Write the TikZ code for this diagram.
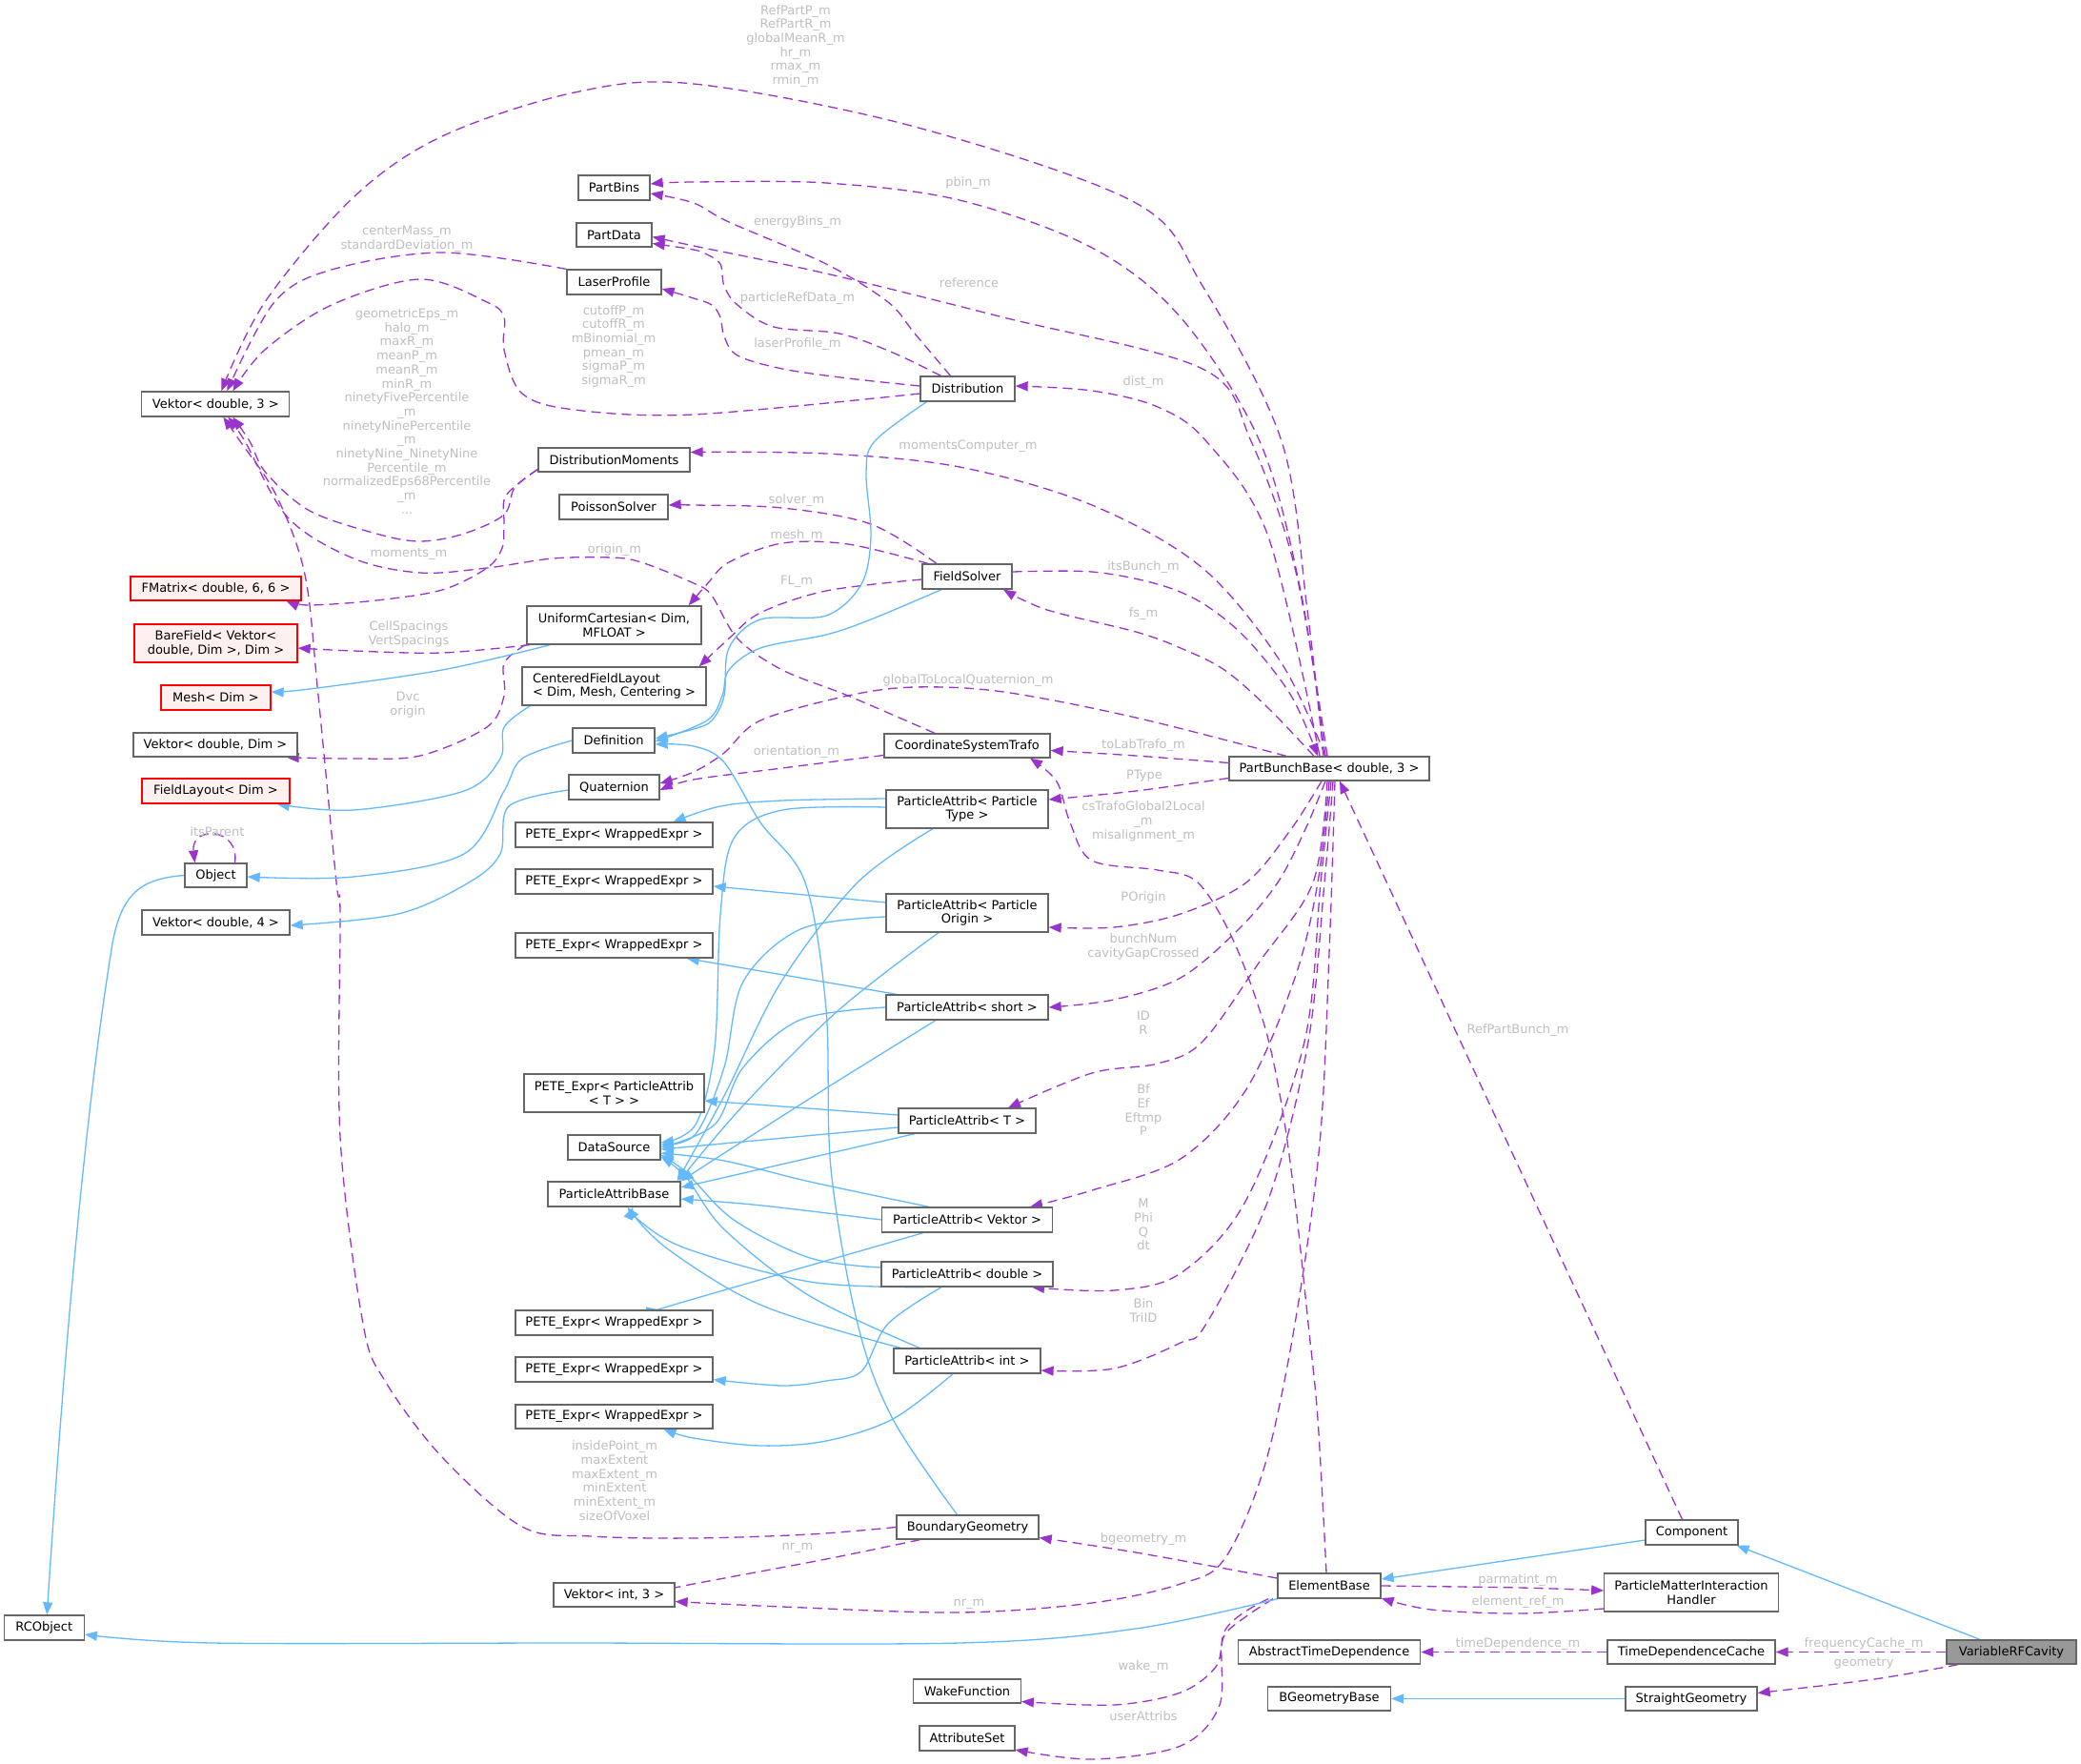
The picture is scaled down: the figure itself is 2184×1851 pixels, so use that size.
\documentclass[tikz,border=0pt]{standalone}
\usepackage{fontspec}
\setmainfont{DejaVu Sans}
\usetikzlibrary{arrows.meta}
\definecolor{purp}{HTML}{9A32CD}
\definecolor{bluel}{HTML}{63B8FF}
\definecolor{lblc}{HTML}{BEBEBE}
\definecolor{boxc}{HTML}{666666}
\definecolor{redb}{HTML}{FF0000}
\definecolor{redf}{HTML}{FFF0F0}
\definecolor{selc}{HTML}{999999}
\newcommand{\nf}{\fontsize{13}{14.7}\selectfont}
\pgfdeclarelayer{bg}
\pgfsetlayers{bg,main}
\begin{document}
\begin{tikzpicture}[x=1pt,y=-1pt,
 cbox/.style={draw=boxc, fill=white, line width=1.3pt, inner sep=0pt, minimum height=26pt, font=\nf, align=center},
 redbox/.style={cbox, draw=redb, fill=redf},
 selbox/.style={cbox, fill=selc},
 twoline/.style={minimum height=40pt},
 lbl/.style={font=\nf, text=lblc, align=center, inner sep=0pt},
 usage/.style={draw=purp, line width=1.3pt, dash pattern=on 10pt off 6pt, -{Triangle[length=13pt,width=10pt]}},
 inher/.style={draw=bluel, line width=1.3pt, -{Triangle[length=13pt,width=10pt]}}
]
\useasboundingbox (0,0) rectangle (2184,1851);

% ---------------- nodes ----------------
\node[cbox, minimum width=155pt] (vek3) at (226.3,424) {Vektor< double, 3 >};
\node[cbox, minimum width=75pt] (partbins) at (644.5,197) {PartBins};
\node[cbox, minimum width=79pt, minimum height=25pt] (partdata) at (644.5,246.5) {PartData};
\node[cbox, minimum width=99pt] (laser) at (644.5,296) {LaserProfile};
\node[cbox, minimum width=99pt] (dist) at (1015.5,408) {Distribution};
\node[cbox, minimum width=159pt, minimum height=25pt] (dmom) at (644.5,482.5) {DistributionMoments};
\node[cbox, minimum width=114pt] (poisson) at (644,532) {PoissonSolver};
\node[redbox, minimum width=179pt, minimum height=25pt] (fmat) at (226.5,617.5) {FMatrix< double, 6, 6 >};
\node[cbox, twoline, minimum width=183pt] (unic) at (644.5,656) {UniformCartesian< Dim,\\MFLOAT >};
\node[redbox, twoline, minimum width=171pt] (bare) at (226.5,675) {BareField< Vektor<\\double, Dim >, Dim >};
\node[redbox, minimum width=115pt] (mesh) at (226.5,732) {Mesh< Dim >};
\node[cbox, twoline, minimum width=193pt, align=left] (cfl) at (644.5,720) {CenteredFieldLayout\\< Dim, Mesh, Centering >};
\node[cbox, minimum width=172pt, minimum height=25pt] (vekdim) at (226,781.5) {Vektor< double, Dim >};
\node[redbox, minimum width=155pt] (flayout) at (226.5,830) {FieldLayout< Dim >};
\node[cbox, minimum width=86pt] (defn) at (644,777) {Definition};
\node[cbox, minimum width=95pt] (quat) at (644.5,826) {Quaternion};
\node[cbox, minimum width=207pt] (pete1) at (644.5,876) {PETE\_Expr< WrappedExpr >};
\node[cbox, minimum width=207pt] (pete2) at (644.5,925) {PETE\_Expr< WrappedExpr >};
\node[cbox, minimum width=65pt, minimum height=25pt] (object) at (226.5,918.5) {Object};
\node[cbox, minimum width=155pt] (vek4) at (226.5,968) {Vektor< double, 4 >};
\node[cbox, minimum width=207pt] (pete3) at (644.5,992) {PETE\_Expr< WrappedExpr >};
\node[cbox, twoline, minimum width=189pt] (petepa) at (644.5,1147) {PETE\_Expr< ParticleAttrib\\< T > >};
\node[cbox, minimum width=97pt] (dsrc) at (644.5,1204) {DataSource};
\node[cbox, minimum width=139pt] (pab) at (644.5,1253) {ParticleAttribBase};
\node[cbox, minimum width=207pt] (pete4) at (644.5,1388) {PETE\_Expr< WrappedExpr >};
\node[cbox, minimum width=207pt] (pete5) at (644.5,1437) {PETE\_Expr< WrappedExpr >};
\node[cbox, minimum width=207pt, minimum height=25pt] (pete6) at (644.5,1486.5) {PETE\_Expr< WrappedExpr >};
\node[cbox, minimum width=127pt, minimum height=25pt] (vekint) at (644.5,1673.5) {Vektor< int, 3 >};
\node[cbox, minimum width=84pt] (rcobj) at (46.3,1708) {RCObject};
\node[cbox, minimum width=94pt] (fsolver) at (1015,605) {FieldSolver};
\node[cbox, minimum width=174pt, minimum height=25pt] (cst) at (1015,782.5) {CoordinateSystemTrafo};
\node[cbox, minimum width=210pt, minimum height=25pt] (pbb) at (1395,806.5) {PartBunchBase< double, 3 >};
\node[cbox, twoline, minimum width=170pt] (patype) at (1015,849) {ParticleAttrib< Particle\\Type >};
\node[cbox, twoline, minimum width=170pt] (paorig) at (1015,958) {ParticleAttrib< Particle\\Origin >};
\node[cbox, minimum width=170pt] (pashort) at (1015,1057) {ParticleAttrib< short >};
\node[cbox, minimum width=144pt] (pat) at (1015,1176) {ParticleAttrib< T >};
\node[cbox, minimum width=178.5pt] (pavek) at (1015,1280) {ParticleAttrib< Vektor >};
\node[cbox, minimum width=180pt] (padbl) at (1015,1337) {ParticleAttrib< double >};
\node[cbox, minimum width=154pt] (paint) at (1015,1428) {ParticleAttrib< int >};
\node[cbox, minimum width=149pt, minimum height=25pt] (bgeo) at (1015.5,1602.5) {BoundaryGeometry};
\node[cbox, minimum width=108pt] (ebase) at (1395,1664) {ElementBase};
\node[cbox, minimum width=112.5pt, minimum height=25pt] (wake) at (1015,1774.5) {WakeFunction};
\node[cbox, minimum width=100pt] (attrset) at (1015,1824) {AttributeSet};
\node[cbox, minimum width=191.5pt, minimum height=25pt] (atd) at (1395,1733.5) {AbstractTimeDependence};
\node[cbox, minimum width=129pt, minimum height=25pt] (bgb) at (1395,1782.5) {BGeometryBase};
\node[cbox, minimum width=97pt] (comp) at (1775.5,1608) {Component};
\node[cbox, twoline, minimum width=182.5pt] (pmih) at (1775,1671) {ParticleMatterInteraction\\Handler};
\node[cbox, minimum width=176pt, minimum height=25pt] (tdc) at (1775,1733.5) {TimeDependenceCache};
\node[selbox, minimum width=136pt, minimum height=25pt] (vrf) at (2111,1733.5) {VariableRFCavity};
\node[cbox, minimum width=138pt, minimum height=25pt] (sgeo) at (1775,1782.5) {StraightGeometry};

% ---------------- labels ----------------
\node[lbl] (l01) at (835,48.5) {RefPartP\_m\\RefPartR\_m\\globalMeanR\_m\\hr\_m\\rmax\_m\\rmin\_m};
\node[lbl] (l02) at (1016,192) {pbin\_m};
\node[lbl] (l03) at (837,233) {energyBins\_m};
\node[lbl] (l04) at (427,251) {centerMass\_m\\standardDeviation\_m};
\node[lbl] (l05) at (1017,297) {reference};
\node[lbl] (l06) at (837,313) {particleRefData\_m};
\node[lbl] (l07) at (837,361) {laserProfile\_m};
\node[lbl] (l08) at (644,363.5) {cutoffP\_m\\cutoffR\_m\\mBinomial\_m\\pmean\_m\\sigmaP\_m\\sigmaR\_m};
\node[lbl] (l09) at (1200,401) {dist\_m};
\node[lbl] (l10) at (427,431.5) {geometricEps\_m\\halo\_m\\maxR\_m\\meanP\_m\\meanR\_m\\minR\_m\\ninetyFivePercentile\\\_m\\ninetyNinePercentile\\\_m\\ninetyNine\_NinetyNine\\Percentile\_m\\normalizedEps68Percentile\\\_m\\...};
\node[lbl] (l11) at (1016,468) {momentsComputer\_m};
\node[lbl] (l12) at (836,525) {solver\_m};
\node[lbl] (l13) at (836,562) {mesh\_m};
\node[lbl] (l14) at (429,581) {moments\_m};
\node[lbl] (l15) at (645,577) {origin\_m};
\node[lbl] (l16) at (1200,595) {itsBunch\_m};
\node[lbl] (l17) at (836,610) {FL\_m};
\node[lbl] (l18) at (1200,644) {fs\_m};
\node[lbl] (l19) at (429,665.5) {CellSpacings\\VertSpacings};
\node[lbl] (l20) at (1016,714) {globalToLocalQuaternion\_m};
\node[lbl] (l21) at (428,739.5) {Dvc\\origin};
\node[lbl] (l22) at (1200,782) {toLabTrafo\_m};
\node[lbl] (l23) at (836,789) {orientation\_m};
\node[lbl] (l24) at (1201,814) {PType};
\node[lbl] (l25) at (1200,862) {csTrafoGlobal2Local\\\_m\\misalignment\_m};
\node[lbl] (l26) at (228,873) {itsParent};
\node[lbl] (l27) at (1200,942) {POrigin};
\node[lbl] (l28) at (1200,993.5) {bunchNum\\cavityGapCrossed};
\node[lbl] (l29) at (1200,1073.5) {ID\\R};
\node[lbl] (l30) at (1593,1081) {RefPartBunch\_m};
\node[lbl] (l31) at (1200,1165) {Bf\\Ef\\Eftmp\\P};
\node[lbl] (l32) at (1200,1285) {M\\Phi\\Q\\dt};
\node[lbl] (l33) at (1200,1375) {Bin\\TriID};
\node[lbl] (l34) at (645,1553.5) {insidePoint\_m\\maxExtent\\maxExtent\_m\\minExtent\\minExtent\_m\\sizeOfVoxel};
\node[lbl] (l35) at (837,1624) {nr\_m};
\node[lbl] (l36) at (1200,1615) {bgeometry\_m};
\node[lbl] (l37) at (1593,1658) {parmatint\_m};
\node[lbl] (l38) at (1593,1681) {element\_ref\_m};
\node[lbl] (l39) at (1017,1683) {nr\_m};
\node[lbl] (l40) at (1593,1725) {timeDependence\_m};
\node[lbl] (l41) at (1956,1725) {frequencyCache\_m};
\node[lbl] (l42) at (1956,1745) {geometry};
\node[lbl] (l43) at (1200,1749) {wake\_m};
\node[lbl] (l44) at (1200,1801) {userAttribs};

\begin{pgfonlayer}{bg}
% ---------------- usage (purple dashed) ----------------
\draw[usage] plot[smooth, tension=0.55] coordinates {([xshift=-6pt]pbb.north) (1372,640) (1345,463) (1262,300) (1192,213) (960,133) (728,88) (603,97) (464,143) (371,207) (278,317) ([xshift=6pt]vek3.north)};
\draw[usage] plot[smooth, tension=0.55] coordinates {([yshift=-5pt]dist.west) (728,435) (603,430) (548,413) (529,367) (529,333) (511,317) (441,293) (348,320) (278,367) ([xshift=18pt]vek3.north)};
\draw[usage] plot[smooth, tension=0.55] coordinates {(laser.north west) (464,265) (348,283) (288,317) ([xshift=12pt]vek3.north)};
\draw[usage] plot[smooth, tension=0.55] coordinates {([yshift=-10pt]dmom.west) (540,512) (529,540) (487,560) (441,568) (395,560) (325,536) (279,496) (262,463) ([xshift=18pt]vek3.south)};
\draw[usage] plot[smooth, tension=0.55] coordinates {([xshift=-34pt]cst.north) (890,730) (821,703) (774,670) (747,625) (728,612) (673,590) (641,585) (580,586) (511,596) (441,601) (371,586) (302,543) (257,463) ([xshift=13pt]vek3.south)};
\draw[usage] plot[smooth, tension=0.55] coordinates {(bgeo.west) (850,1610) (728,1614) (620,1612) (548,1602) (464,1529) (404,1449) (381,1389) (357,1193) (357,959) (353,926) (334,730) (320,603) (290,520) (252,463) ([xshift=8pt]vek3.south)};
\draw[usage] plot[smooth, tension=0.55] coordinates {([xshift=-18pt]dist.north) (960,350) (932,317) (867,277) (765,233) (728,213) ([yshift=-6pt]partbins.east)};
\draw[usage] plot[smooth, tension=0.55] coordinates {([xshift=-4pt]pbb.north) (1365,620) (1322,463) (1239,333) (1146,260) (1007,210) (867,192) (728,191) ([yshift=4pt]partbins.east)};
\draw[usage] plot[smooth, tension=0.55] coordinates {([xshift=-28pt]dist.north) (937,370) (881,350) (812,343) (774,320) (760,300) (756,277) (742,267) (728,262) ([yshift=-9pt]partdata.east)};
\draw[usage] plot[smooth, tension=0.55] coordinates {([xshift=-2pt]pbb.north) (1360,600) (1313,463) (1262,387) (1053,333) (867,287) (728,258) ([yshift=-2pt]partdata.east)};
\draw[usage] plot[smooth, tension=0.55] coordinates {([yshift=3pt]dist.west) (890,397) (821,387) (774,373) (760,353) (756,333) (747,320) (728,313) ([yshift=-7pt]laser.east)};
\draw[usage] plot[smooth, tension=0.55] coordinates {([xshift=-10pt]pbb.north) (1331,563) (1266,463) (1215,427) (1146,410) ([yshift=3pt]dist.east)};
\draw[usage] plot[smooth, tension=0.55] coordinates {([xshift=-4pt]pbb.north) (1345,696) (1262,596) (1146,530) (1007,490) (867,476) ([yshift=8pt]dmom.east)};
\draw[usage] plot[smooth, tension=0.55] coordinates {([xshift=-32pt]fsolver.north) (914,550) (821,533) (728,530) ([yshift=2pt]poisson.east)};
\draw[usage] plot[smooth, tension=0.55] coordinates {([xshift=-41pt]fsolver.north) (890,571) (821,570) (765,590) (742,613) ([xshift=-14pt]unic.north east)};
\draw[usage] plot[smooth, tension=0.55] coordinates {([yshift=-3pt]fsolver.west) (867,620) (798,643) (765,670) ([xshift=-8pt]cfl.north east)};
\draw[usage] plot[smooth, tension=0.55] coordinates {([yshift=5pt]fsolver.east) (1146,600) (1215,613) (1262,633) (1308,670) (1355,730) ([xshift=-12pt]pbb.north)};
\draw[usage] plot[smooth, tension=0.55] coordinates {([xshift=-16pt]pbb.north) (1331,743) (1285,703) (1239,680) (1192,663) (1099,640) ([xshift=38pt]fsolver.south)};
\draw[usage] plot[smooth, tension=0.55] coordinates {([xshift=-45pt]pbb.north) (1192,753) (1053,726) (960,721) (890,730) (798,756) (760,790) (728,810) ([yshift=4pt]quat.east)};
\draw[usage] plot[smooth, tension=0.55] coordinates {([yshift=-10pt]cst.west) (821,806) (728,818) ([yshift=-3pt]quat.east)};
\draw[usage] plot[smooth, tension=0.55] coordinates {([yshift=6pt]pbb.west) (1192,793) ([yshift=-5pt]cst.east)};
\draw[usage] plot[smooth, tension=0.55] coordinates {([yshift=-10pt]pbb.west) (1192,830) ([yshift=10pt]patype.east)};
\draw[usage] plot[smooth, tension=0.55] coordinates {([xshift=-3pt]ebase.north) (1383,1489) (1373,1389) (1359,1259) (1345,1159) (1327,1076) (1294,986) (1257,926) (1215,913) (1146,903) (1123,863) (1109,820) ([xshift=66pt]cst.south)};
\draw[usage] plot[smooth, tension=0.55] coordinates {([xshift=-8pt]pbb.south) (1355,870) (1308,926) (1239,959) (1169,973) ([yshift=-15pt]paorig.east)};
\draw[usage] plot[smooth, tension=0.55] coordinates {([xshift=-4pt]pbb.south) (1370,870) (1341,926) (1299,976) (1239,1026) (1169,1049) (pashort.east)};
\draw[usage] plot[smooth, tension=0.55] coordinates {([xshift=-2pt]pbb.south) (1378,926) (1322,1009) (1262,1093) (1215,1116) (1146,1126) ([xshift=43pt]pat.north)};
\draw[usage] plot[smooth, tension=0.55] coordinates {(pbb.south) (1383,926) (1359,1026) (1308,1143) (1239,1216) (1146,1249) ([xshift=66pt]pavek.north)};
\draw[usage] plot[smooth, tension=0.55] coordinates {([xshift=2pt]pbb.south) (1386,926) (1369,1093) (1308,1259) (1239,1336) (1169,1354) ([xshift=68pt]padbl.south)};
\draw[usage] plot[smooth, tension=0.55] coordinates {([xshift=4pt]pbb.south) (1390,926) (1373,1093) (1331,1259) (1266,1389) (1239,1409) (1169,1436) ([yshift=-10pt]paint.east)};
\draw[usage] plot[smooth, tension=0.55] coordinates {([xshift=6pt]pbb.south) (1395,1000) (1385,1200) (1359,1389) (1327,1539) (1285,1636) (1239,1662) (1146,1682) (1007,1692) (821,1686) ([yshift=-7pt]vekint.east)};
\draw[usage] plot[smooth, tension=0.55] coordinates {([xshift=-50pt]bgeo.south) (867,1636) (728,1662) ([yshift=7pt]vekint.east)};
\draw[usage] plot[smooth, tension=0.55] coordinates {([yshift=8pt]ebase.west) (1192,1629) ([yshift=-11pt]bgeo.east)};
\draw[usage] plot[smooth, tension=0.55] coordinates {([xshift=-59pt]ebase.south) (1308,1696) (1285,1716) (1276,1749) (1239,1776) (1169,1789) ([yshift=-11pt]wake.east)};
\draw[usage] plot[smooth, tension=0.55] coordinates {([xshift=-64pt]ebase.south) (1285,1712) (1280,1789) (1239,1832) (1146,1846) ([yshift=-12pt]attrset.east)};
\draw[usage] plot[smooth, tension=0.55] coordinates {(ebase.east) (1595,1666) ([yshift=2pt]pmih.west)};
\draw[usage] plot[smooth, tension=0.55] coordinates {([yshift=-17pt]pmih.west) (1595,1693) (1502,1689) ([yshift=-13pt]ebase.east)};
\draw[usage] (tdc.west) -- (atd.east);
\draw[usage] (vrf.west) -- (tdc.east);
\draw[usage] plot[smooth, tension=0.55] coordinates {([xshift=-56pt]vrf.south) (1967,1762) ([yshift=6pt]sgeo.east)};
\draw[usage] ([xshift=-10pt]comp.north) -- ([xshift=11pt]pbb.south);
\draw[usage] ([xshift=20pt]object.north) .. controls (252,868) and (200,866) .. ([xshift=-22pt]object.north);
\draw[usage] plot[smooth, tension=0.55] coordinates {([xshift=4pt]unic.south west) (464,685) (371,683) ([yshift=-5pt]bare.east)};
\draw[usage] plot[smooth, tension=0.55] coordinates {([xshift=-1pt]unic.south west) (529,696) (529,730) (511,763) (441,793) (371,796) ([xshift=-12pt]vekdim.south east)};
\draw[usage] plot[smooth, tension=0.55] coordinates {([yshift=-10pt]dmom.west) (531,520) (529,550) (527,575) (511,596) (464,619) (395,630) (325,635) ([xshift=-16pt]fmat.south east)};

% ---------------- inheritance (blue) ----------------
\draw[inher] plot[smooth, tension=0.55] coordinates {([xshift=25pt]unic.south west) (464,703) (325,723) ([yshift=6pt]mesh.east)};
\draw[inher] plot[smooth, tension=0.55] coordinates {([xshift=9pt]cfl.south west) (529,763) (525,796) (487,830) (371,850) ([xshift=-14pt]flayout.south east)};
\draw[inher] plot[smooth, tension=0.55] coordinates {(defn.west) (548,796) (529,830) (487,896) (371,920) ([yshift=-1.5pt]object.east)};
\draw[inher] plot[smooth, tension=0.55] coordinates {([yshift=-3pt]quat.west) (534,846) (525,896) (492,926) (418,959) ([yshift=-3pt]vek4.east)};
\draw[inher] (object.west) .. controls (150,922) and (128,935) .. (118,990) .. controls (100,1100) and (75,1300) .. ([xshift=3pt]rcobj.north);
\draw[inher] plot[smooth, tension=0.55] coordinates {([xshift=-54pt]ebase.south) (1192,1709) (1007,1724) (600,1724) (223,1724) ([yshift=-7pt]rcobj.east)};
\draw[inher] ([yshift=-8pt]comp.west) -- ([yshift=7pt]ebase.east);
\draw[inher] ([xshift=-33pt]vrf.north) -- ([xshift=-2pt]comp.south east);
\draw[inher] (sgeo.west) -- (bgb.east);
\draw[inher] plot[smooth, tension=0.55] coordinates {([xshift=-43pt]dist.south) (918,463) (909,496) (914,563) (904,613) (867,646) (798,650) (765,680) (760,730) (747,756) (728,765) ([yshift=2pt]defn.east)};
\draw[inher] plot[smooth, tension=0.55] coordinates {([xshift=-27pt]fsolver.south) (914,650) (867,666) (798,680) (765,703) (758,730) (742,756) ([yshift=-1pt]defn.east)};
\draw[inher] plot[smooth, tension=0.55] coordinates {([xshift=-11pt]bgeo.north) (937,1489) (900,1389) (872,1226) (867,1059) (845,926) (798,863) (760,800) (728,783) ([yshift=-4pt]defn.east)};
% ParticleAttrib< ParticleType >
\draw[inher] plot[smooth, tension=0.55] coordinates {([yshift=11pt]patype.west) (821,840) (756,846) ([xshift=-42pt]pete1.north east)};
\draw[inher] plot[smooth, tension=0.55] coordinates {([yshift=2pt]patype.west) (821,850) (770,880) (756,960) (750,1100) (730,1180) ([yshift=5pt]dsrc.east)};
\draw[inher] plot[smooth, tension=0.55] coordinates {([xshift=-36pt]patype.south) (900,926) (820,1030) (760,1150) ([xshift=-4pt]pab.north east)};
% ParticleAttrib< ParticleOrigin >
\draw[inher] ([yshift=11pt]paorig.west) -- ([yshift=-5pt]pete2.east);
\draw[inher] plot[smooth, tension=0.55] coordinates {([yshift=-4pt]paorig.west) (840,975) (780,1030) (760,1120) (730,1190) ([yshift=3pt]dsrc.east)};
\draw[inher] plot[smooth, tension=0.55] coordinates {([xshift=-30pt]paorig.south) (880,1060) (780,1160) ([xshift=-2pt]pab.north east)};
% ParticleAttrib< short >
\draw[inher] ([xshift=-74pt]pashort.north) -- ([xshift=-28pt]pete3.south east);
\draw[inher] plot[smooth, tension=0.55] coordinates {(pashort.west) (840,1070) (780,1120) (750,1180) (dsrc.east)};
\draw[inher] plot[smooth, tension=0.55] coordinates {([xshift=-33pt]pashort.south) (870,1140) (760,1210) (pab.north east)};
% ParticleAttrib< T >
\draw[inher] ([yshift=6pt]pat.west) -- ([yshift=-8pt]petepa.east);
\draw[inher] ([yshift=-7pt]pat.west) -- ([yshift=-2pt]dsrc.east);
\draw[inher] ([xshift=-55pt]pat.south) -- ([yshift=7pt]pab.east);
% ParticleAttrib< Vektor >
\draw[inher] plot[smooth, tension=0.55] coordinates {([xshift=-40pt]pavek.north) (850,1240) (760,1218) ([yshift=-6pt]dsrc.east)};
\draw[inher] plot[smooth, tension=0.55] coordinates {(pavek.west) (800,1265) ([yshift=-5pt]pab.east)};
\draw[inher] plot[smooth, tension=0.55] coordinates {([xshift=-46pt]pavek.south) (728,1363) ([xshift=47pt]pete4.north)};
% ParticleAttrib< double >
\draw[inher] plot[smooth, tension=0.55] coordinates {([yshift=7pt]padbl.west) (850,1320) (770,1280) (720,1230) ([yshift=-8pt]dsrc.east)};
\draw[inher] plot[smooth, tension=0.55] coordinates {([xshift=-45pt]padbl.south) (850,1345) (720,1310) (670,1280) ([xshift=20pt]pab.south)};
\draw[inher] plot[smooth, tension=0.55] coordinates {([xshift=-27pt]padbl.south) (932,1389) (904,1439) (867,1449) (821,1454) ([yshift=3pt]pete5.south east)};
% ParticleAttrib< int >
\draw[inher] plot[smooth, tension=0.55] coordinates {([xshift=-50pt]paint.north) (850,1360) (760,1290) (720,1235) ([yshift=-10pt]dsrc.east)};
\draw[inher] plot[smooth, tension=0.55] coordinates {([xshift=-70pt]paint.north) (800,1370) (700,1310) ([xshift=14pt]pab.south)};
\draw[inher] plot[smooth, tension=0.55] coordinates {([xshift=-15pt]paint.south) (937,1489) (867,1512) (798,1517) (728,1509) ([xshift=52pt]pete6.south)};
\end{pgfonlayer}
\end{tikzpicture}
\end{document}
